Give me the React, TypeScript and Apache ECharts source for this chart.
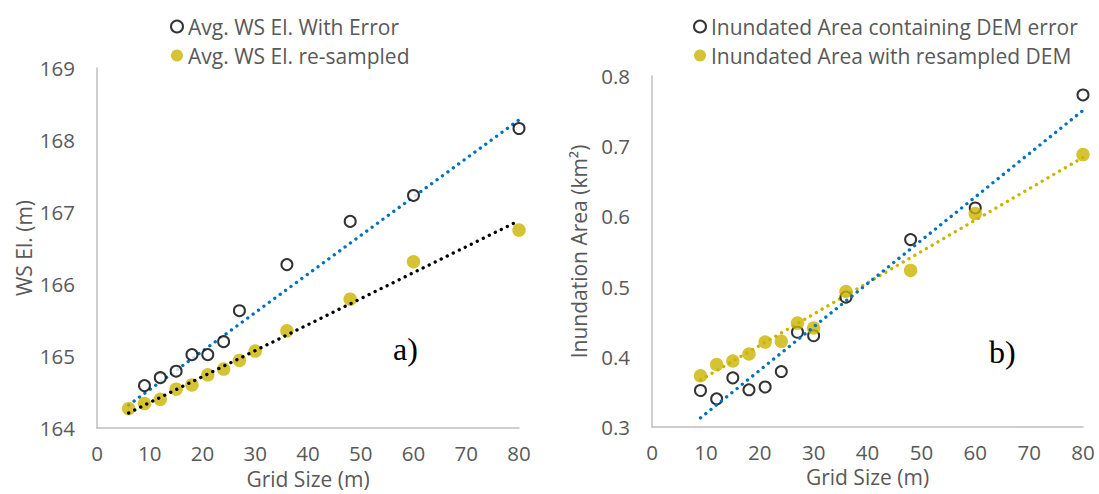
import React, { useEffect, useRef } from "react";
import * as echarts from "echarts";

// ---- Panel a) water-surface elevation ----
const gridSizeA = [6, 9, 12, 15, 18, 21, 24, 27, 30, 36, 48, 60, 80];
const wsErrorX = [9, 12, 15, 18, 21, 24, 27, 36, 48, 60, 80];
const wsError = [164.59, 164.7, 164.79, 165.02, 165.02, 165.2, 165.63, 166.27, 166.87, 167.23, 168.16];
const wsResampled = [164.27, 164.34, 164.4, 164.54, 164.6, 164.74, 164.82, 164.94, 165.07, 165.35, 165.79, 166.31, 166.75];
const wsErrorTrendX = [6, 80];
const wsErrorTrend = [164.32, 168.28];
const wsResTrendX = [6, 80];
const wsResTrend = [164.21, 166.88];

// ---- Panel b) inundated area ----
const gridSizeB = [9, 12, 15, 18, 21, 24, 27, 30, 36, 48, 60, 80];
const areaError = [0.352, 0.34, 0.37, 0.353, 0.357, 0.379, 0.435, 0.43, 0.485, 0.567, 0.612, 0.773];
const areaResampled = [0.373, 0.389, 0.394, 0.404, 0.421, 0.422, 0.448, 0.441, 0.493, 0.523, 0.604, 0.688];
const areaErrorTrendX = [9, 80];
const areaErrorTrend = [0.313, 0.751];
const areaResTrendX = [9, 80];
const areaResTrend = [0.367, 0.684];

const xTicks = { min: 0, max: 80, interval: 10 };
const yTicksA = { min: 164, max: 169, interval: 1 };
const yTicksB = { min: 0.3, max: 0.8, interval: 0.1 };

const FONT = "'Open Sans', 'Noto Sans', sans-serif";
const GREY = "#595959";
const AXIS = "#bfbfbf";
const BLUE = "#0070c0";
const GOLD = "#cbb400";

const zip = (xs: number[], ys: number[]) => xs.map((x, i) => [x, ys[i]]);

export default function App() {
  const ref = useRef<HTMLDivElement>(null);
  useEffect(() => {
    if (!ref.current) return;
    const chart = echarts.init(ref.current, undefined, { renderer: "svg" });

    const xAxisBase = (gridIndex: number) => ({
      type: "value",
      gridIndex,
      ...xTicks,
      name: "Grid Size (m)",
      nameLocation: "middle",
      nameGap: 37,
      nameTextStyle: { color: GREY, fontFamily: FONT, fontSize: 21 },
      axisLine: { show: true, onZero: false, lineStyle: { color: AXIS, width: 1.5 } },
      axisTick: { show: false },
      splitLine: { show: false },
      axisLabel: { color: GREY, fontFamily: FONT, fontSize: 20.5, margin: 14 },
    });

    const yAxisBase = (gridIndex: number, name: string) => ({
      type: "value",
      gridIndex,
      name,
      nameLocation: "middle",
      nameGap: 63,
      nameTextStyle: { color: GREY, fontFamily: FONT, fontSize: 21 },
      axisLine: { show: true, onZero: false, lineStyle: { color: AXIS, width: 1.5 } },
      axisTick: { show: false },
      splitLine: { show: false },
    });

    const trendStyle = (color: string) => ({
      color,
      width: 3.3,
      type: [0.1, 6.6],
      cap: "round",
    });

    const openCircle = {
      symbol: "circle",
      symbolSize: 11,
      itemStyle: { color: "#ffffff", borderColor: "#000000", borderWidth: 2 },
    };
    const filled = {
      symbol: "circle",
      symbolSize: 13.5,
      itemStyle: { color: GOLD },
    };

    const legendBase = {
      orient: "vertical",
      top: 11,
      itemGap: 8,
      itemWidth: 12,
      itemHeight: 12,
      icon: "circle",
      textStyle: { color: GREY, fontFamily: FONT, fontSize: 21 },
    };

    chart.setOption({
      animation: false,
      backgroundColor: "#ffffff",
      grid: [
        { left: 97, top: 68, width: 422, height: 361 },
        { left: 652, top: 76, width: 431, height: 351 },
      ],
      xAxis: [xAxisBase(0), xAxisBase(1)],
      yAxis: [
        {
          ...yAxisBase(0, "WS El. (m)"),
          ...yTicksA,
          axisLabel: { color: GREY, fontFamily: FONT, fontSize: 20.5, margin: 22 },
        },
        {
          ...yAxisBase(1, "Inundation Area (km²)"),
          ...yTicksB,
          axisLabel: {
            color: GREY,
            fontFamily: FONT,
            fontSize: 20.5,
            margin: 22,
            formatter: (v: number) => v.toFixed(1),
          },
        },
      ],
      legend: [
        {
          ...legendBase,
          left: 165,
          data: ["Avg. WS El. With Error", "Avg. WS El. re-sampled"],
        },
        {
          ...legendBase,
          left: 688,
          data: ["Inundated Area containing DEM error", "Inundated Area with resampled DEM"],
        },
      ],
      graphic: [
        {
          type: "text",
          left: 393,
          top: 333,
          style: { text: "a)", font: "32px 'Liberation Serif', 'Times New Roman', serif", fill: "#000" },
        },
        {
          type: "text",
          left: 989,
          top: 336,
          style: { text: "b)", font: "32px 'Liberation Serif', 'Times New Roman', serif", fill: "#000" },
        },
      ],
      series: [
        {
          type: "line",
          xAxisIndex: 0,
          yAxisIndex: 0,
          data: zip(wsErrorTrendX, wsErrorTrend),
          showSymbol: false,
          silent: true,
          lineStyle: trendStyle(BLUE),
          z: 1,
        },
        {
          type: "line",
          xAxisIndex: 0,
          yAxisIndex: 0,
          data: zip(wsResTrendX, wsResTrend),
          showSymbol: false,
          silent: true,
          lineStyle: trendStyle("#000000"),
          z: 3,
        },
        {
          name: "Avg. WS El. With Error",
          type: "scatter",
          xAxisIndex: 0,
          yAxisIndex: 0,
          data: zip(wsErrorX, wsError),
          ...openCircle,
          z: 2,
        },
        {
          name: "Avg. WS El. re-sampled",
          type: "scatter",
          xAxisIndex: 0,
          yAxisIndex: 0,
          data: zip(gridSizeA, wsResampled),
          ...filled,
          z: 2,
        },
        {
          type: "line",
          xAxisIndex: 1,
          yAxisIndex: 1,
          data: zip(areaErrorTrendX, areaErrorTrend),
          showSymbol: false,
          silent: true,
          lineStyle: trendStyle(BLUE),
          z: 3,
        },
        {
          type: "line",
          xAxisIndex: 1,
          yAxisIndex: 1,
          data: zip(areaResTrendX, areaResTrend),
          showSymbol: false,
          silent: true,
          lineStyle: trendStyle(GOLD),
          z: 1,
        },
        {
          name: "Inundated Area containing DEM error",
          type: "scatter",
          xAxisIndex: 1,
          yAxisIndex: 1,
          data: zip(gridSizeB, areaError),
          ...openCircle,
          z: 2,
        },
        {
          name: "Inundated Area with resampled DEM",
          type: "scatter",
          xAxisIndex: 1,
          yAxisIndex: 1,
          data: zip(gridSizeB, areaResampled),
          ...filled,
          z: 2,
        },
      ],
    });
    return () => chart.dispose();
  }, []);

  return (
    <div
      ref={ref}
      style={{ position: "fixed", left: 0, top: 0, width: 1099, height: 494, background: "#fff" }}
    />
  );
}
